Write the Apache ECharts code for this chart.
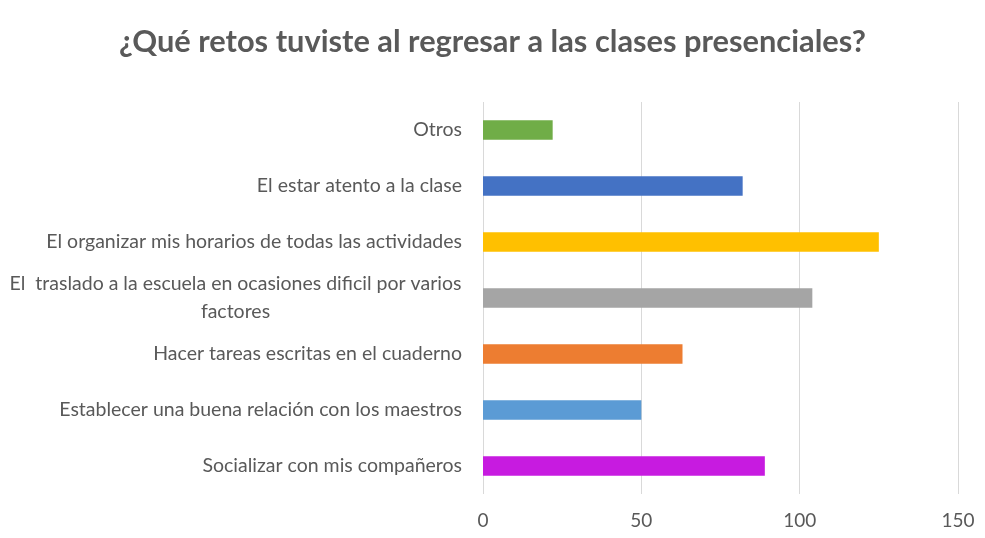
<!DOCTYPE html>
<html><head><meta charset="utf-8">
<script src="https://cdn.jsdelivr.net/npm/echarts@6/dist/echarts.min.js"></script>
<style>html,body{margin:0;padding:0;background:#fff}#c{width:985px;height:538px}</style>
</head><body><div id="c"></div>
<script>
const titleText = '¿Qué retos tuviste al regresar a las clases presenciales?';
const categories = [
  'Otros',
  'El estar atento a la clase',
  'El organizar mis horarios de todas las actividades',
  'El  traslado a la escuela en ocasiones dificil por varios\nfactores',
  'Hacer tareas escritas en el cuaderno',
  'Establecer una buena relación con los maestros',
  'Socializar con mis compañeros'
];
const values = [22, 82, 125, 104, 63, 50, 89];
const colors = ['#70ad47', '#4472c4', '#ffc000', '#a5a5a5', '#ed7d31', '#5b9bd5', '#c71be0'];
const xTicks = [0, 50, 100, 150];

const FONT = 'Lato';
const chart = echarts.init(document.getElementById('c'));
chart.setOption({
  animation: false,
  backgroundColor: '#fff',
  title: {
    text: titleText, left: 'center', top: 22,
    textStyle: {fontFamily: FONT, fontSize: 30.8, fontWeight: 'bold', color: '#595959'}
  },
  grid: {left: 483, right: 27, top: 102, bottom: 44},
  xAxis: {
    type: 'value', min: xTicks[0], max: xTicks[xTicks.length - 1], interval: 50,
    axisLine: {show: false}, axisTick: {show: false},
    axisLabel: {fontFamily: FONT, fontSize: 19, color: '#595959', margin: 17},
    splitLine: {show: true, lineStyle: {color: '#d9d9d9', width: 1}}
  },
  yAxis: {
    type: 'category', inverse: true, data: categories,
    axisLine: {show: false}, axisTick: {show: false},
    axisLabel: {
      fontFamily: FONT, fontSize: 19.5, color: '#595959', margin: 21, lineHeight: 28,
      formatter: function (v) {
        if (v.indexOf('\n') >= 0) {
          return v.split('\n').map(s => '{c|' + s + '}').join('\n');
        }
        return v;
      },
      rich: {c: {width: 453, align: 'center', fontFamily: FONT, fontSize: 19.5, color: '#595959', lineHeight: 28}}
    }
  },
  series: [{
    type: 'bar', data: values.map((v, i) => ({value: v, itemStyle: {color: colors[i]}})),
    barCategoryGap: '65%'
  }]
});
</script></body></html>
